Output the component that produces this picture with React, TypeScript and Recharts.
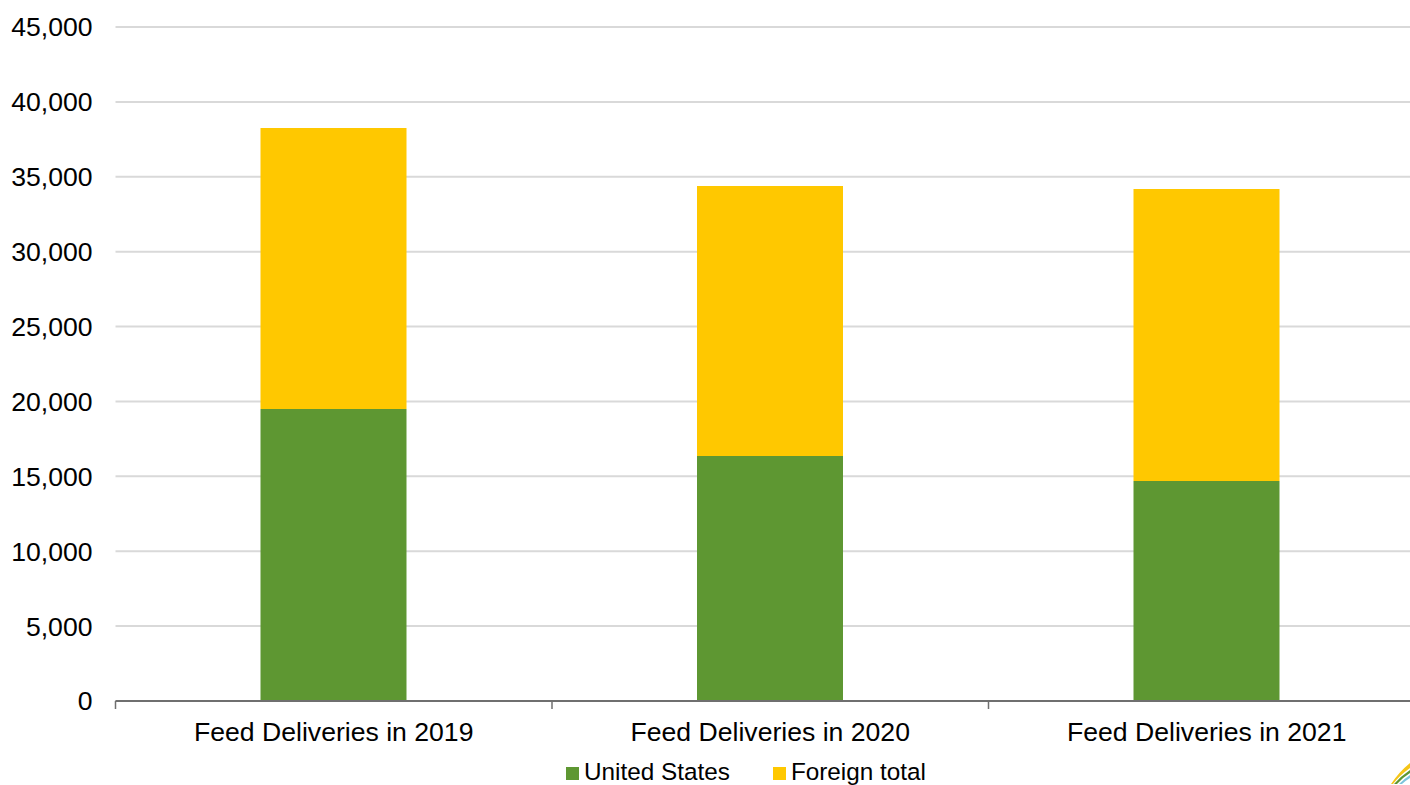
import React from 'react';
import { BarChart, Bar, XAxis, YAxis, CartesianGrid, Legend } from 'recharts';

const categories = ['Feed Deliveries in 2019', 'Feed Deliveries in 2020', 'Feed Deliveries in 2021'];
const unitedStates = [19500, 16360, 14690];
const foreignTotal = [18760, 18030, 19500];
const yTicks = [0, 5000, 10000, 15000, 20000, 25000, 30000, 35000, 40000, 45000];

const data = categories.map((name, i) => ({
  name,
  us: unitedStates[i],
  foreign: foreignTotal[i],
}));

const HALF_BAND = 218.25;

const CategoryTick = ({ x, y, payload }: any) => (
  <g>
    <line x1={x - HALF_BAND} x2={x - HALF_BAND} y1={701} y2={709} stroke="#6f6f6f" strokeWidth={1.5} />
    <text x={x} y={y} textAnchor="middle" fontSize={26.6} fill="#000" fontFamily="'Liberation Sans', Arial, sans-serif">
      {payload.value}
    </text>
  </g>
);

export default function App() {
  return (
    <div
      style={{
        position: 'absolute',
        top: 0,
        left: 0,
        width: 1410,
        height: 785,
        overflow: 'hidden',
        background: '#fff',
        fontFamily: "'Liberation Sans', Arial, sans-serif",
      }}
    >
      <BarChart
        width={1430}
        height={785}
        data={data}
        margin={{ top: 27, right: 5, bottom: 0, left: 0 }}
      >
        <CartesianGrid vertical={false} stroke="#d9d9d9" strokeWidth={2} />
        <XAxis
          dataKey="name"
          interval={0}
          tickLine={false}
          axisLine={{ stroke: '#6f6f6f', strokeWidth: 2 }}
          tick={<CategoryTick />}
          height={52}
          tickMargin={34}
        />
        <YAxis
          width={115.5}
          domain={[0, 45000]}
          ticks={yTicks}
          interval={0}
          axisLine={false}
          tickLine={false}
          tickMargin={23}
          tickSize={0}
          tick={{ fontSize: 26.6, fill: '#000' }}
          tickFormatter={(v: number) => v.toLocaleString('en-US')}
        />
        <Legend
          verticalAlign="bottom"
          align="left"
          iconType="square"
          iconSize={13}
          itemSorter={null}
          wrapperStyle={{ left: 566, width: 500, bottom: -5, height: 32, fontSize: 24.3, lineHeight: '28px' }}
          formatter={(value: string) => <span style={{ color: '#000', marginLeft: 1, marginRight: 33 }}>{value}</span>}
        />
        <Bar dataKey="us" name="United States" stackId="a" fill="#5e9732" barSize={146} isAnimationActive={false} />
        <Bar dataKey="foreign" name="Foreign total" stackId="a" fill="#ffc800" barSize={146} isAnimationActive={false} />
      </BarChart>
      {/* corner logo swoosh */}
      <svg width={20} height={24} style={{ position: 'absolute', left: 1390, top: 761 }}>
        <path d="M1 23 Q9 11 20 2 L20 7 Q10 14 3 23 Z" fill="#f5c518" />
        <path d="M4 23 Q11 15 20 9 L20 12 Q12 17 7 23 Z" fill="#5e9732" />
        <path d="M9 23 Q14 18 20 14 L20 17 Q15 20 12 23 Z" fill="#7cc4dc" />
      </svg>
    </div>
  );
}
